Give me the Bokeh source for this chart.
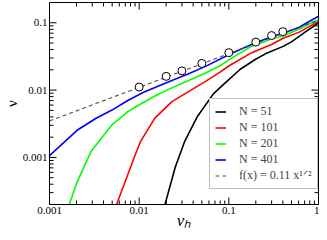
from bokeh.plotting import figure
from bokeh.models import FixedTicker, CustomJSTickFormatter, Legend, LegendItem, Range1d
from bokeh.embed import file_html
from bokeh.resources import INLINE
from math import pi

# ---- data ----
x_lo, x_hi = 0.001, 1.0
y_lo, y_hi = 0.0002, 0.2
x_ticks = [0.001, 0.01, 0.1, 1]
y_ticks = [0.001, 0.01, 0.1]
x_minor = [0.002, 0.003, 0.004, 0.005, 0.006, 0.007, 0.008, 0.009,
           0.02, 0.03, 0.04, 0.05, 0.06, 0.07, 0.08, 0.09,
           0.2, 0.3, 0.4, 0.5, 0.6, 0.7, 0.8, 0.9]
y_minor = [0.0002, 0.0003, 0.0004, 0.0005, 0.0006, 0.0007, 0.0008, 0.0009,
           0.002, 0.003, 0.004, 0.005, 0.006, 0.007, 0.008, 0.009,
           0.02, 0.03, 0.04, 0.05, 0.06, 0.07, 0.08, 0.09, 0.2]

x51 = [0.0194, 0.0253, 0.0323, 0.0448, 0.0672, 0.0893, 0.134, 0.201, 0.268, 0.403, 0.50, 0.684, 1.0]
y51 = [0.0002, 0.00072, 0.00175, 0.0041, 0.0088, 0.0125, 0.0204, 0.0290, 0.0357, 0.0446, 0.052, 0.070, 0.100]

x101 = [0.0056, 0.0088, 0.0103, 0.0149, 0.023, 0.0351, 0.055, 0.079, 0.101, 0.178, 0.303, 0.403, 0.60, 1.0]
y101 = [0.0002, 0.001, 0.0017, 0.0038, 0.0067, 0.0094, 0.0135, 0.0183, 0.0230, 0.0357, 0.0480, 0.0590, 0.0720, 0.105]

x201 = [0.00166, 0.00203, 0.00293, 0.00498, 0.00746, 0.0095, 0.0155, 0.0228, 0.0351, 0.055, 0.079, 0.101, 0.178, 0.303, 0.403, 0.60, 1.0]
y201 = [0.0002, 0.00043, 0.00125, 0.00305, 0.0048, 0.0058, 0.0084, 0.0107, 0.0138, 0.018, 0.0228, 0.0283, 0.0446, 0.058, 0.0638, 0.080, 0.112]

x401 = [0.001, 0.00203, 0.00331, 0.00498, 0.00746, 0.0112, 0.0155, 0.0228, 0.0351, 0.0550, 0.101, 0.194, 0.303, 0.403, 0.60, 1.0]
y401 = [0.00106, 0.00253, 0.00382, 0.00505, 0.0070, 0.0093, 0.0111, 0.0138, 0.0173, 0.0225, 0.0337, 0.0500, 0.0620, 0.0698, 0.0850, 0.125]

fit_x = [0.001, 1.0]
fit_y = [0.00348, 0.11]

circ_x = [0.01, 0.02, 0.03, 0.05, 0.1, 0.2, 0.3, 0.4]
circ_y = [0.0111, 0.016, 0.0193, 0.0249, 0.036, 0.0516, 0.0646, 0.0738]

labels = ["N = 51", "N = 101", "N = 201", "N = 401"]
fit_label = "f(x) = 0.11 x\u00b9\u141f\u00b2"
colors = ["#000000", "#ff0000", "#00ff00", "#0000ff"]

SERIF = "Liberation Serif"

p = figure(width=319, height=232, x_axis_type="log", y_axis_type="log",
           x_range=Range1d(x_lo, x_hi), y_range=Range1d(y_lo, y_hi),
           output_backend="svg", toolbar_location=None,
           min_border_left=41, min_border_right=1, min_border_top=2, min_border_bottom=10)
p.grid.visible = False
p.outline_line_color = "black"
p.outline_line_width = 1

fmt = CustomJSTickFormatter(code="return tick.toString();")
for ax, ticks in ((p.xaxis[0], x_ticks), (p.yaxis[0], y_ticks)):
    ax.ticker = FixedTicker(ticks=ticks)
    ax.formatter = fmt
    ax.major_tick_in = 0
    ax.major_tick_out = 0
    ax.minor_tick_in = 0
    ax.minor_tick_out = 0
    ax.axis_line_color = "black"
    ax.major_label_text_font = SERIF
    ax.major_label_text_font_size = "11px"
    ax.major_label_text_color = "black"
    ax.axis_label_text_font = SERIF
    ax.axis_label_text_color = "black"

p.xaxis[0].major_label_standoff = 2
p.yaxis[0].major_label_standoff = 2
p.yaxis[0].axis_label = "ν"
p.yaxis[0].axis_label_text_font_size = "15px"
p.yaxis[0].axis_label_text_font_style = "normal"
p.yaxis[0].axis_label_standoff = 0
p.xaxis[0].axis_label = "νₕ"
p.xaxis[0].axis_label_text_font_size = "17px"
p.xaxis[0].axis_label_text_font_style = "italic"
p.xaxis[0].axis_label_standoff = -6

# inward ticks on all four sides (screen-length rays from the frame edges)
tick_kw = dict(line_color="black", line_width=1, length_units="screen")
p.ray(x=x_ticks, y=y_lo, length=7, angle=pi / 2, **tick_kw)
p.ray(x=x_minor, y=y_lo, length=4, angle=pi / 2, **tick_kw)
p.ray(x=x_ticks, y=y_hi, length=7, angle=-pi / 2, **tick_kw)
p.ray(x=x_minor, y=y_hi, length=4, angle=-pi / 2, **tick_kw)
p.ray(x=x_lo, y=y_ticks, length=7, angle=0, **tick_kw)
p.ray(x=x_lo, y=y_minor, length=4, angle=0, **tick_kw)
p.ray(x=x_hi, y=y_ticks, length=7, angle=pi, **tick_kw)
p.ray(x=x_hi, y=y_minor, length=4, angle=pi, **tick_kw)

xs = [x51, x101, x201, x401]
ys = [y51, y101, y201, y401]
rs = []
for xx, yy, c in zip(xs, ys, colors):
    rs.append(p.line(xx, yy, line_color=c, line_width=1.6))
rfit = p.line(fit_x, fit_y, line_color="#505050", line_width=1.1, line_dash="4 3")
p.scatter(circ_x, circ_y, size=8, marker="circle", fill_color="white",
          line_color="black", line_width=1)

items = [LegendItem(label=l, renderers=[r]) for l, r in zip(labels, rs)]
items.append(LegendItem(label=fit_label, renderers=[rfit]))
legend = Legend(items=items, location=(160, 15),
                label_text_font=SERIF, label_text_font_size="12px",
                glyph_width=11, glyph_height=13, label_height=13, label_width=73,
                label_standoff=13, spacing=1, padding=5, margin=0,
                border_line_color="#808080", border_line_width=1,
                background_fill_color="white", background_fill_alpha=1)
p.add_layout(legend)

open("out.html", "w").write(file_html(p, INLINE))
